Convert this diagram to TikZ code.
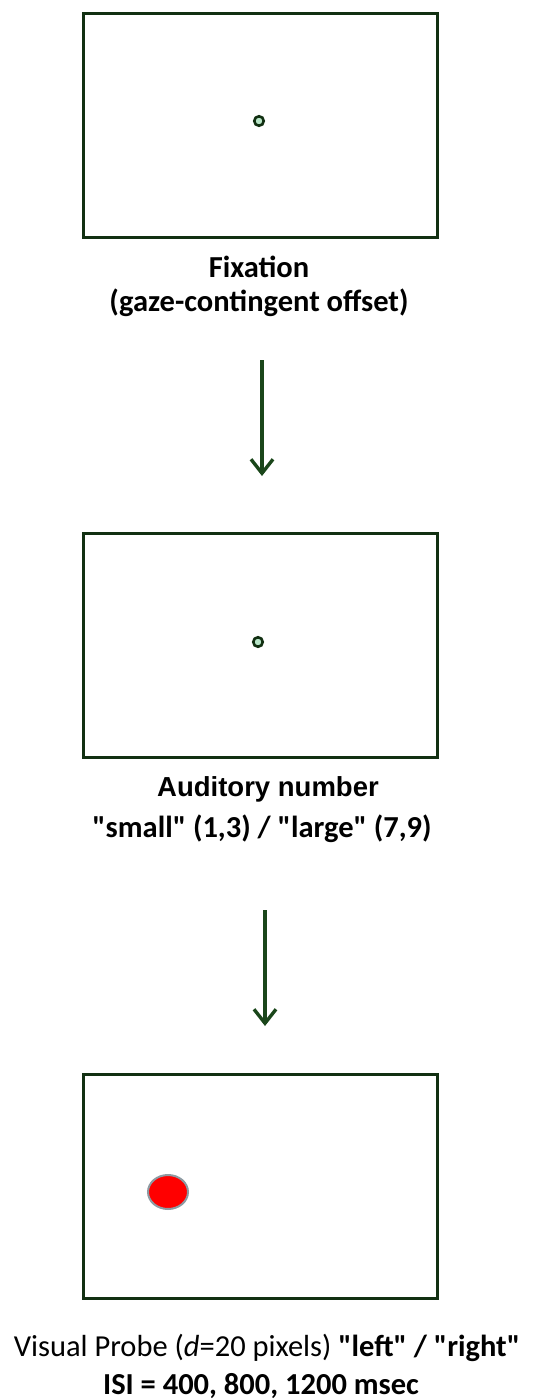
\documentclass[tikz,border=0pt]{standalone}
\usepackage{fontspec}
\setmainfont{Carlito}[Ligatures=TeXOff]
\newfontfamily\arialf{Liberation Sans}[Ligatures=TeXOff]
\usetikzlibrary{arrows.meta,shapes.geometric}
\definecolor{boxgreen}{HTML}{123012}
\definecolor{arrowgreen}{HTML}{1A461A}
\definecolor{dotfill}{HTML}{B8E6C8}
\definecolor{probegrey}{HTML}{8E9AA2}
\begin{document}
\begin{tikzpicture}[x=1pt,y=-1pt,
  screen/.style={draw=boxgreen,line width=3pt,minimum width=354pt,minimum height=224pt,inner sep=0pt},
  fixdot/.style={circle,draw=boxgreen,line width=2.6pt,fill=dotfill,minimum size=9.5pt,inner sep=0pt},
  lbl/.style={anchor=base,inner sep=0pt,font=\fontsize{30.5}{36}\selectfont\bfseries},
  flow/.style={draw=arrowgreen,line width=3.2pt,-{Straight Barb[length=14pt,width=22pt,line width=3.4pt]}}]
\useasboundingbox (0,0) rectangle (534,1400);
% screens
\node[screen] (s1) at (260,125) {};
\node[screen] (s2) at (260,645) {};
\node[screen] (s3) at (260,1186) {};
% fixation dots
\node[fixdot] (d1) at (259,121) {};
\node[fixdot] (d2) at (258,642) {};
% probe
\node[ellipse,fill=red,draw=probegrey,line width=2pt,minimum width=40pt,minimum height=34pt,inner sep=0pt] (p) at (168,1192) {};
% labels
\node[lbl] (t1a) at (259,277) {Fixation};
\node[lbl] (t1b) at (259,311) {(gaze-contingent offset)};
\node[anchor=base,inner sep=0pt,font=\arialf\fontsize{27.5}{32}\selectfont\bfseries] (t2a) at (268,796) {Auditory number};
\node[lbl] (t2b) at (262,837) {"small" (1,3) / "large" (7,9)};
\node[anchor=base,inner sep=0pt,font=\fontsize{30.5}{36}\selectfont] (t3a) at (267,1356) {Visual Probe (\textit{d}=20 pixels) \textbf{"left" / "right"}};
\node[lbl] (t3b) at (261,1394) {ISI = 400, 800, 1200 msec};
% arrows
\coordinate (a1s) at (262,360);
\coordinate (a1e) at (262,476);
\coordinate (a2s) at (265,910);
\coordinate (a2e) at (265,1026);
\draw[flow] (a1s) -- (a1e);
\draw[flow] (a2s) -- (a2e);
\end{tikzpicture}
\end{document}
